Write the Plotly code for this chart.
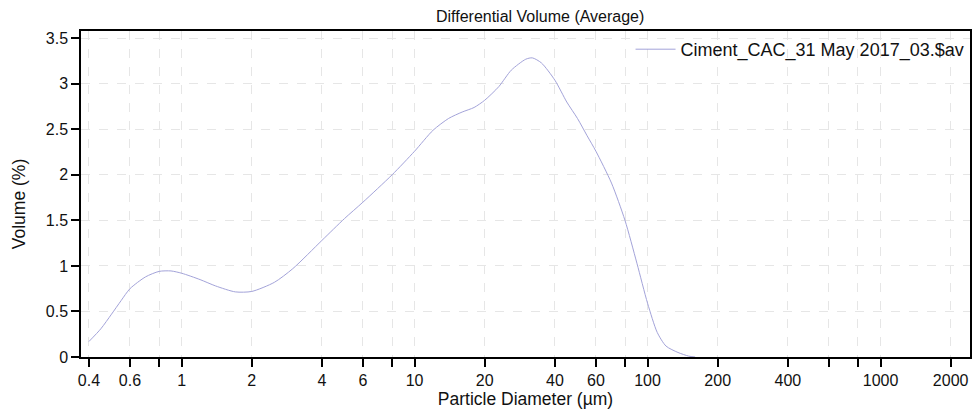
import plotly.graph_objects as go

diameter_um = [0.4, 0.45, 0.5, 0.55, 0.6, 0.7, 0.8, 0.9, 1.0, 1.2, 1.4, 1.7, 2.0, 2.5, 3.0,
               4.0, 5.0, 6.0, 8.0, 10, 12, 14, 16, 18, 20, 23, 26, 30, 32, 35, 40, 45, 50,
               55, 60, 70, 80, 90, 100, 110, 120, 135, 150, 160]
volume_pct = [0.17, 0.31, 0.47, 0.62, 0.75, 0.88, 0.94, 0.945, 0.92, 0.85, 0.78, 0.715, 0.72,
              0.82, 0.97, 1.28, 1.52, 1.70, 2.0, 2.26, 2.49, 2.62, 2.69, 2.74, 2.82, 2.97,
              3.15, 3.27, 3.285, 3.23, 3.04, 2.80, 2.62, 2.43, 2.26, 1.91, 1.50, 1.03, 0.59,
              0.27, 0.12, 0.05, 0.01, 0.0]
series_name = "Ciment_CAC_31 May 2017_03.$av"

x_tickvals = [0.4, 0.6, 0.8, 1, 2, 4, 6, 8, 10, 20, 40, 60, 80, 100, 200, 400, 600, 800, 1000, 2000]
x_ticktext = ["0.4", "0.6", "", "1", "2", "4", "6", "", "10", "20", "40", "60", "", "100",
              "200", "400", "", "", "1000", "2000"]
y_tickvals = [0, 0.5, 1, 1.5, 2, 2.5, 3, 3.5]
y_ticktext = ["0", "0.5", "1", "1.5", "2", "2.5", "3", "3.5"]

font_family = "Liberation Sans, Arial, sans-serif"

fig = go.Figure()
fig.add_trace(go.Scatter(
    x=diameter_um, y=volume_pct, mode="lines", name=series_name,
    line=dict(color="#a3a3d9", width=1, shape="spline", smoothing=0.7),
    showlegend=True,
))

fig.update_layout(
    width=975, height=412,
    margin=dict(l=81, r=3, t=31, b=55),
    paper_bgcolor="white", plot_bgcolor="white",
    font=dict(family=font_family, size=16, color="#111"),
    title=dict(text="Differential Volume (Average)", x=0.554, xanchor="center",
               y=0.96, yanchor="middle", font=dict(size=16, color="#111")),
    legend=dict(x=0.9995, xanchor="right", y=1.0, yanchor="top",
                bgcolor="rgba(0,0,0,0)", font=dict(size=18, color="#111"),
                itemwidth=40),
    showlegend=True,
    annotations=[dict(text="Volume (%)", textangle=-90, xref="paper", yref="paper",
                      x=-0.0696, y=0.469, xanchor="center", yanchor="middle",
                      showarrow=False, font=dict(size=17.5, color="#111"))],
)

fig.update_xaxes(
    type="log", range=[-0.432, 3.384],
    tickvals=x_tickvals, ticktext=x_ticktext,
    ticks="outside", ticklen=8, tickwidth=1.5, tickcolor="black",
    showline=True, linecolor="black", linewidth=1.5, mirror=True,
    showgrid=True, gridcolor="#e6e6e6", griddash="dash", gridwidth=1,
    zeroline=False,
    title=dict(text="Particle Diameter (µm)", standoff=3, font=dict(size=17.5)),
    tickfont=dict(size=16),
)
fig.update_yaxes(
    range=[0, 3.58],
    tickvals=y_tickvals, ticktext=y_ticktext,
    ticks="outside", ticklen=8, tickwidth=1.5, tickcolor="black",
    showline=True, linecolor="black", linewidth=1.5, mirror=True,
    showgrid=True, gridcolor="#e6e6e6", griddash="dash", gridwidth=1,
    zeroline=False,
    tickfont=dict(size=16),
)

fig.write_html("out.html", config={"displayModeBar": False})

# remove default page margin so the 975x412 figure fits the window exactly
with open("out.html", "r", encoding="utf-8") as f:
    html = f.read()
html = html.replace("<head>", "<head><style>html,body{margin:0;padding:0;overflow:hidden;}</style>", 1)
with open("out.html", "w", encoding="utf-8") as f:
    f.write(html)
